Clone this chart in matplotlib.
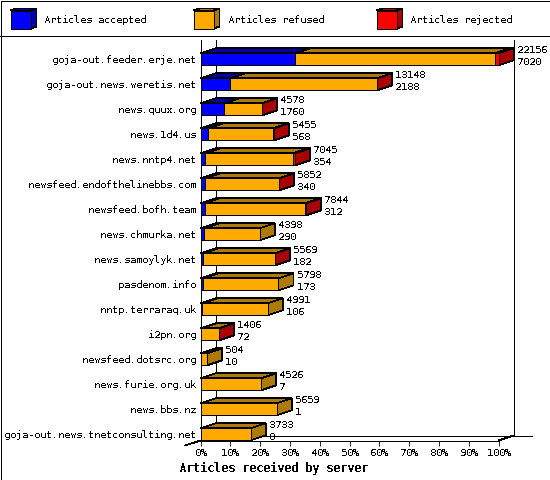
import matplotlib
matplotlib.use('Agg')
import matplotlib.pyplot as plt
from matplotlib.patches import Polygon, Rectangle

plt.rcParams['font.family'] = ['DejaVu Sans Mono']
plt.rcParams['text.antialiased'] = False
plt.rcParams['text.hinting'] = 'native'
plt.rcParams['text.hinting_factor'] = 1

servers = ['goja-out.feeder.erje.net', 'goja-out.news.weretis.net', 'news.quux.org',
           'news.1d4.us', 'news.nntp4.net', 'newsfeed.endofthelinebbs.com',
           'newsfeed.bofh.team', 'news.chmurka.net', 'news.samoylyk.net',
           'pasdenom.info', 'nntp.terraraq.uk', 'i2pn.org', 'newsfeed.dotsrc.org',
           'news.furie.org.uk', 'news.bbs.nz', 'goja-out.news.tnetconsulting.net']
totals = [22156, 13148, 4578, 5455, 7045, 5852, 7844, 4398, 5569, 5798, 4991, 1406, 504, 4526, 5659, 3733]
accepted = [7020, 2188, 1760, 568, 354, 340, 312, 290, 182, 173, 106, 72, 10, 7, 1, 0]
rejected = [260, 40, 30, 60, 170, 30, 50, 0, 15, 0, 0, 30, 0, 0, 0, 0]
pct_ticks = [0, 10, 20, 30, 40, 50, 60, 70, 80, 90, 100]

colors = ['#0000ff', '#ffaa00', '#ff0000']
dark = ['#0000aa', '#ae7a06', '#aa0000']
legend_names = ['Articles accepted', 'Articles refused', 'Articles rejected']

W, H = 550, 480
LW = 0.6
FS = 7.5
fig = plt.figure(figsize=(W / 100, H / 100), dpi=100, facecolor='white')

# whole-figure layer in pixels, for the frame and the legend
bg = fig.add_axes([0, 0, 1, 1], zorder=0)
bg.set_xlim(0, W)
bg.set_ylim(H, 0)
bg.axis('off')


def px_line(xs, ys):
    bg.plot(xs, ys, color='black', lw=LW, antialiased=False, solid_capstyle='butt', zorder=1)


px_line([0.5, 549.5, 549.5, 0.5, 0.5], [0.5, 0.5, 479.5, 479.5, 0.5])
px_line([0, 550], [35.5, 35.5])
px_line([215.5, 215.5], [40, 435.5])
px_line([513.5, 513.5], [40, 435.5])
px_line([215.5, 532], [435.5, 435.5])
px_line([200.5, 185], [440.5, 445.5])
px_line([498.5, 513.5], [440.5, 435.5])

for x0, name, c, d in zip([10.5, 193.5, 376.5], legend_names, colors, dark):
    bg.add_patch(Polygon([(x0 + 20, 10.5), (x0 + 26, 8.5), (x0 + 26, 26.5), (x0 + 20, 28.5)],
                         fc=d, ec='black', lw=LW, aa=False))
    bg.add_patch(Polygon([(x0, 10.5), (x0 + 6, 8.5), (x0 + 26, 8.5), (x0 + 20, 10.5)],
                         fc=d, ec='black', lw=LW, aa=False))
    bg.add_patch(Rectangle((x0, 10.5), 20, 18, fc=c, ec='black', lw=LW, aa=False))
    bg.text(x0 + 34, 20, name, fontsize=FS, va='center', ha='left')

# chart layer: x in articles, y in rows
max_total = max(totals)
ax = fig.add_axes([200.5 / W, 1 - 440.5 / H, 298 / W, 400.5 / H], zorder=1)
ax.patch.set_alpha(0)
ax.set_xlim(0, max_total)
ax.set_ylim(15.248, -0.772)
depth_x = 15 / 298 * max_total
depth_y = 5 / 25
half = 6 / 25

for i, name in enumerate(servers):
    refused = totals[i] - accepted[i] - rejected[i]
    left = 0
    last = 0
    for j, v in enumerate([accepted[i], refused, rejected[i]]):
        if v == 0:
            continue
        last = j
        right = left + v
        ax.add_patch(Polygon([(left, i - half), (left + depth_x, i - half - depth_y),
                              (right + depth_x, i - half - depth_y), (right, i - half)],
                             fc=dark[j], ec='black', lw=LW, aa=False, clip_on=False, zorder=3))
        ax.add_patch(Rectangle((left, i - half), v, 2 * half, fc=colors[j], ec='black',
                               lw=LW, aa=False, clip_on=False, zorder=4))
        left = right
    ax.add_patch(Polygon([(left, i - half), (left + depth_x, i - half - depth_y),
                          (left + depth_x, i + half - depth_y), (left, i + half)],
                         fc=dark[last], ec='black', lw=LW, aa=False, clip_on=False, zorder=3))
    ax.annotate(str(totals[i]), (left + depth_x, i), xytext=(2.2, 6.5), textcoords='offset points',
                fontsize=FS, va='center', ha='left', annotation_clip=False, zorder=5)
    ax.annotate(str(accepted[i]), (left + depth_x, i), xytext=(2.2, -1.6), textcoords='offset points',
                fontsize=FS, va='center', ha='left', annotation_clip=False, zorder=5)

ax.spines['top'].set_visible(False)
ax.spines['right'].set_visible(False)
for s in ['left', 'bottom']:
    ax.spines[s].set_linewidth(LW)
    ax.spines[s].set_antialiased(False)
ax.set_yticks(range(len(servers)))
ax.set_yticklabels(servers, fontsize=FS)
ax.tick_params(axis='y', length=0, pad=2.9)
ax.set_xticks([p / 100 * max_total for p in pct_ticks])
ax.set_xticklabels([f'{p}%' for p in pct_ticks], fontsize=FS)
ax.tick_params(axis='x', length=3.6, width=LW, pad=1.5)
ax.set_xlabel('Articles received by server', fontsize=8.6, fontweight='bold')
ax.xaxis.set_label_coords(0.245, -0.054)

fig.savefig('out.png', dpi=100)
